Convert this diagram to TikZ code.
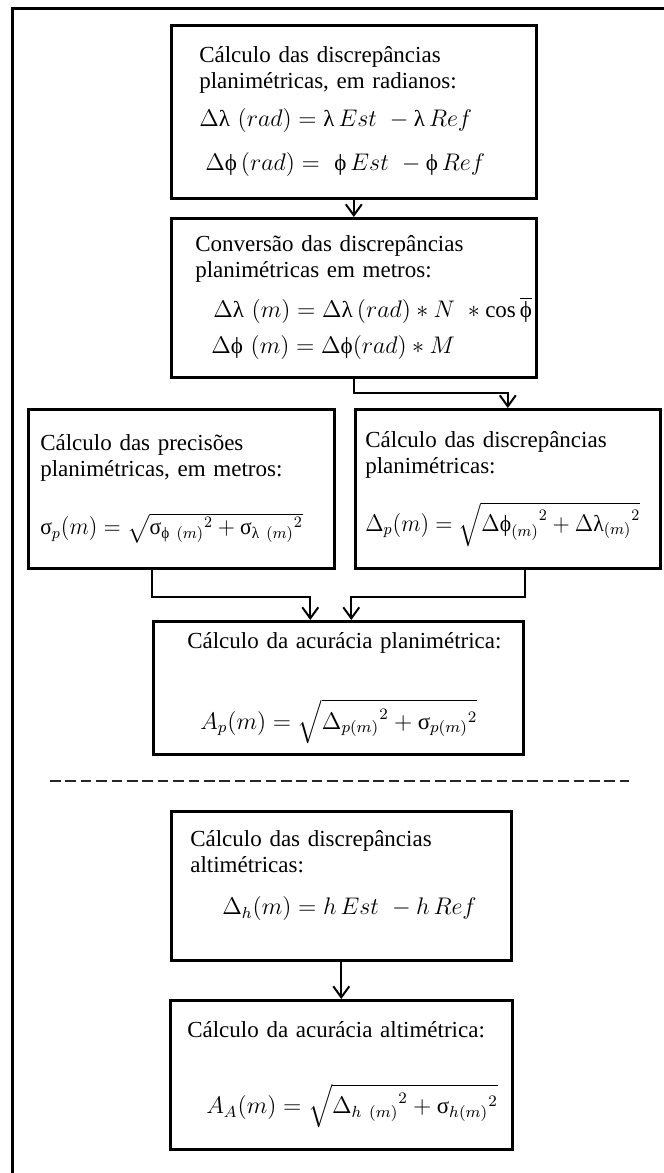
\documentclass[tikz,border=0pt]{standalone}
\usepackage{amsmath}
\usepackage{graphicx}
\usepackage{fontspec}
\setmainfont{Liberation Serif}
\usepackage{tikz}
\usetikzlibrary{arrows.meta,calc,positioning}
\newcommand{\ulam}{\text{λ}}
\newcommand{\uphi}{\text{ϕ}}
\newcommand{\usig}{\text{σ}}

\begin{document}
\begin{tikzpicture}[
    x=0.5pt,
    y=-0.5pt,
    every node/.style={font=\fontsize{11.5}{13}\selectfont},
    box/.style={draw=black, line width=1.3pt, anchor=north west,
      inner sep=0pt, align=left},
    conn/.style={line width=1pt, -{Straight Barb[length=5.5pt,width=8pt]}},
    frame/.style={line width=1.5pt},
    sep/.style={line width=1pt, draw=black!85, dash pattern=on 5.3pt off 2.4pt}
  ]
    % Page size in pixels of the original figure.
    \useasboundingbox (0,0) rectangle (664,1173);
    \draw[frame] (12,1173) -- (12,8) -- (664,8);

    % Planimetric part.
    \node[box, minimum width=182.5pt, minimum height=86.5pt, text width=154.5pt]
      (radianos) at (170,24)
      {\mbox{C\'alculo das discrep\^ancias}\\
       \mbox{planim\'etricas, em radianos:}\\[6pt]
       \mbox{$\Delta\ulam~(rad) = \ulam\,Est~ - \ulam\,Ref$}\\[9pt]
       \mbox{\hspace*{3pt}$\Delta\uphi\,(rad) = ~\uphi\,Est~ - \uphi\,Ref$}};
    \node[box, minimum width=182.5pt, minimum height=79.5pt, text width=158.5pt]
      (metros) at (170,217)
      {\mbox{Convers\~ao das discrep\^ancias}\\
       \mbox{planim\'etricas em metros:}\\[7pt]
       \mbox{\hspace*{9pt}$\Delta\ulam~(m) = \Delta\ulam\,(rad) \ast N~\ast \cos\overline{\uphi}$}\\[5pt]
       \mbox{\hspace*{8pt}$\Delta\uphi~(m) = \Delta\uphi(rad) \ast M$}};
    \node[box, minimum width=153pt, minimum height=79.5pt, text width=141pt]
      (precisoes) at (27,408)
      {\mbox{C\'alculo das precis\~oes}\\
       \mbox{planim\'etricas, em metros:}\\[15pt]
       \scalebox{0.94}[1]{$\usig_p(m) = \sqrt{{\usig_{\uphi~(m)}}^2 + {\usig_{\ulam~(m)}}^2}$}};
    \node[box, minimum width=152.5pt, minimum height=79.5pt, text width=142.5pt]
      (discrep) at (354,408)
      {\mbox{C\'alculo das discrep\^ancias}\\
       \mbox{planim\'etricas:}\\[11pt]
       \scalebox{0.94}[1]{$\Delta_p(m) = \sqrt{{\Delta\uphi_{(m)}}^2 + {\Delta\ulam_{(m)}}^2}$}};
    \node[box, minimum width=185pt, minimum height=66.5pt, text width=151pt]
      (acurPlan) at (152,620)
      {\mbox{C\'alculo da acur\'acia planim\'etrica:}\\[22pt]
       \mbox{\hspace*{6.5pt}$A_p(m) = \sqrt{{\Delta_{p(m)}}^2 + {\usig_{p(m)}}^2}$}};

    \draw[conn] (radianos.south) -- (metros.north);
    \draw[conn] (metros.south) -- ++(0,14) -| (discrep.north);
    \draw[conn] (precisoes.south -| acurPlan.west) -- ++(0,27)
      -| ([xshift=-14pt]acurPlan.north);
    \draw[conn] (discrep.south -| acurPlan.east) -- ++(0,27)
      -| ([xshift=6.5pt]acurPlan.north);

    % Separator.
    \draw[sep] (50,781) -- (629,781);

    % Altimetric part.
    \node[box, minimum width=170pt, minimum height=74.5pt, text width=151pt]
      (altim) at (170,810)
      {\mbox{C\'alculo das discrep\^ancias}\\
       \mbox{altim\'etricas:}\\[8pt]
       \mbox{\hspace*{16pt}$\Delta_h(m) = h\,Est~ - h\,Ref$}\\
       \mbox{}};
    \node[box, minimum width=171pt, minimum height=74.5pt, text width=154pt]
      (acurAlt) at (169,999)
      {\mbox{C\'alculo da acur\'acia altim\'etrica:}\\[22pt]
       \mbox{\hspace*{9.5pt}$A_A(m) = \sqrt{{\Delta_{h~(m)}}^2 + {\usig_{h(m)}}^2}$}};

    \draw[conn] (altim.south) -- (acurAlt.north);
  \end{tikzpicture}
\end{document}
